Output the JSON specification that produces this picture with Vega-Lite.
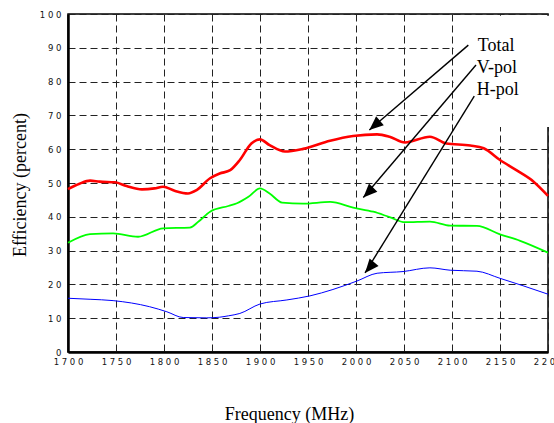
{
  "$schema": "https://vega.github.io/schema/vega-lite/v6.json",
  "width": 480,
  "height": 338,
  "autosize": {"type": "none"},
  "padding": {"left": 68, "top": 14, "right": 6, "bottom": 71},
  "background": "white",
  "config": {
    "view": {"stroke": "black", "strokeWidth": 1.5},
    "axis": {
      "grid": true,
      "gridColor": "#222222",
      "gridDash": [7, 4],
      "gridWidth": 1,
      "gridOpacity": 1,
      "domain": true,
      "domainColor": "black",
      "domainWidth": 2.5,
      "ticks": false,
      "tickSize": 0,
      "labelFont": "DejaVu Sans",
      "labelFontSize": 8.5,
      "labelColor": "#111111",
      "labelFlush": false,
      "labelOverlap": false,
      "labelBound": false,
      "format": "d",
      "labelExpr": "join(split(datum.label, ''), ' ')",
      "titleFont": "Liberation Serif",
      "titleFontSize": 18,
      "titleFontWeight": "normal",
      "titleColor": "black",
      "titleAlign": "center",
      "titleBaseline": "alphabetic"
    },
    "axisX": {
      "labelPadding": 5,
      "values": [1700, 1750, 1800, 1850, 1900, 1950, 2000, 2050, 2100, 2150, 2200],
      "titleX": 221,
      "titleY": 67,
      "titleAngle": 0
    },
    "axisY": {
      "labelPadding": 7,
      "values": [0, 10, 20, 30, 40, 50, 60, 70, 80, 90, 100],
      "titleX": -42.5,
      "titleY": 170.5,
      "titleAngle": -90
    }
  },
  "datasets": {
    "curves": [
      {"series": "Total", "freq": 1700, "eff": 48.2},
      {"series": "Total", "freq": 1712, "eff": 49.8},
      {"series": "Total", "freq": 1723, "eff": 50.7},
      {"series": "Total", "freq": 1733, "eff": 50.4},
      {"series": "Total", "freq": 1749, "eff": 50.2},
      {"series": "Total", "freq": 1761, "eff": 49.1},
      {"series": "Total", "freq": 1777, "eff": 48.1},
      {"series": "Total", "freq": 1790, "eff": 48.4},
      {"series": "Total", "freq": 1799, "eff": 48.9},
      {"series": "Total", "freq": 1811, "eff": 47.7},
      {"series": "Total", "freq": 1825, "eff": 46.9},
      {"series": "Total", "freq": 1834, "eff": 47.9},
      {"series": "Total", "freq": 1848, "eff": 51.4},
      {"series": "Total", "freq": 1858, "eff": 52.8},
      {"series": "Total", "freq": 1869, "eff": 53.8},
      {"series": "Total", "freq": 1879, "eff": 56.8},
      {"series": "Total", "freq": 1891, "eff": 61.7},
      {"series": "Total", "freq": 1900, "eff": 62.9},
      {"series": "Total", "freq": 1910, "eff": 61.2},
      {"series": "Total", "freq": 1926, "eff": 59.3},
      {"series": "Total", "freq": 1945, "eff": 60.1},
      {"series": "Total", "freq": 1973, "eff": 62.5},
      {"series": "Total", "freq": 1997, "eff": 63.9},
      {"series": "Total", "freq": 2022, "eff": 64.4},
      {"series": "Total", "freq": 2035, "eff": 63.7},
      {"series": "Total", "freq": 2051, "eff": 62.0},
      {"series": "Total", "freq": 2077, "eff": 63.7},
      {"series": "Total", "freq": 2094, "eff": 61.7},
      {"series": "Total", "freq": 2119, "eff": 61.1},
      {"series": "Total", "freq": 2133, "eff": 60.3},
      {"series": "Total", "freq": 2150, "eff": 56.8},
      {"series": "Total", "freq": 2167, "eff": 53.8},
      {"series": "Total", "freq": 2185, "eff": 50.4},
      {"series": "Total", "freq": 2200, "eff": 46.2},
      {"series": "V-pol", "freq": 1700, "eff": 32.3},
      {"series": "V-pol", "freq": 1723, "eff": 34.9},
      {"series": "V-pol", "freq": 1747, "eff": 35.1},
      {"series": "V-pol", "freq": 1773, "eff": 34.1},
      {"series": "V-pol", "freq": 1799, "eff": 36.6},
      {"series": "V-pol", "freq": 1827, "eff": 36.8},
      {"series": "V-pol", "freq": 1836, "eff": 38.6},
      {"series": "V-pol", "freq": 1848, "eff": 41.5},
      {"series": "V-pol", "freq": 1867, "eff": 43.2},
      {"series": "V-pol", "freq": 1876, "eff": 44.0},
      {"series": "V-pol", "freq": 1888, "eff": 45.9},
      {"series": "V-pol", "freq": 1900, "eff": 48.4},
      {"series": "V-pol", "freq": 1910, "eff": 46.9},
      {"series": "V-pol", "freq": 1923, "eff": 44.2},
      {"series": "V-pol", "freq": 1945, "eff": 43.9},
      {"series": "V-pol", "freq": 1973, "eff": 44.4},
      {"series": "V-pol", "freq": 1997, "eff": 42.7},
      {"series": "V-pol", "freq": 2018, "eff": 41.5},
      {"series": "V-pol", "freq": 2035, "eff": 39.9},
      {"series": "V-pol", "freq": 2051, "eff": 38.4},
      {"series": "V-pol", "freq": 2077, "eff": 38.6},
      {"series": "V-pol", "freq": 2098, "eff": 37.4},
      {"series": "V-pol", "freq": 2126, "eff": 37.3},
      {"series": "V-pol", "freq": 2150, "eff": 34.8},
      {"series": "V-pol", "freq": 2171, "eff": 32.9},
      {"series": "V-pol", "freq": 2200, "eff": 29.4},
      {"series": "H-pol", "freq": 1700, "eff": 15.9},
      {"series": "H-pol", "freq": 1723, "eff": 15.6},
      {"series": "H-pol", "freq": 1747, "eff": 15.2},
      {"series": "H-pol", "freq": 1785, "eff": 13.4},
      {"series": "H-pol", "freq": 1803, "eff": 11.9},
      {"series": "H-pol", "freq": 1820, "eff": 10.2},
      {"series": "H-pol", "freq": 1844, "eff": 10.1},
      {"series": "H-pol", "freq": 1858, "eff": 10.3},
      {"series": "H-pol", "freq": 1867, "eff": 10.7},
      {"series": "H-pol", "freq": 1879, "eff": 11.4},
      {"series": "H-pol", "freq": 1900, "eff": 14.2},
      {"series": "H-pol", "freq": 1928, "eff": 15.4},
      {"series": "H-pol", "freq": 1952, "eff": 16.6},
      {"series": "H-pol", "freq": 1976, "eff": 18.5},
      {"series": "H-pol", "freq": 2001, "eff": 21.0},
      {"series": "H-pol", "freq": 2022, "eff": 23.3},
      {"series": "H-pol", "freq": 2049, "eff": 23.8},
      {"series": "H-pol", "freq": 2077, "eff": 24.9},
      {"series": "H-pol", "freq": 2098, "eff": 24.2},
      {"series": "H-pol", "freq": 2126, "eff": 23.9},
      {"series": "H-pol", "freq": 2150, "eff": 21.8},
      {"series": "H-pol", "freq": 2174, "eff": 19.6},
      {"series": "H-pol", "freq": 2200, "eff": 17.1}
    ],
    "box": [
      {"x1": 2102, "x2": 2216, "y1": 66.6, "y2": 99.5}
    ],
    "arrows": [
      {"label": "Total", "xs": 2117.0, "ys": 90.8, "xt": 2013.9, "yt": 65.7, "tx": 2126.8, "ty": 89.1},
      {"label": "V-pol", "xs": 2125.0, "ys": 84.9, "xt": 2007.6, "yt": 45.7, "tx": 2125.7, "ty": 82.4},
      {"label": "H-pol", "xs": 2123.2, "ys": 75.7, "xt": 2009.4, "yt": 23.4, "tx": 2125.7, "ty": 76.0}
    ]
  },
  "layer": [
    {
      "data": {"name": "curves"},
      "mark": {"type": "line", "interpolate": "monotone"},
      "encoding": {
        "x": {"field": "freq", "type": "quantitative", "title": "Frequency (MHz)", "scale": {"domain": [1700, 2200], "nice": false, "zero": false}},
        "y": {"field": "eff", "type": "quantitative", "title": "Efficiency (percent)", "scale": {"domain": [0, 100], "nice": false}},
        "color": {"field": "series", "type": "nominal", "legend": null, "scale": {"domain": ["Total", "V-pol", "H-pol"], "range": ["#ff0000", "#00ff00", "#0000ff"]}},
        "strokeWidth": {"field": "series", "type": "nominal", "legend": null, "scale": {"domain": ["Total", "V-pol", "H-pol"], "range": [2.6, 1.0, 1.0]}}
      }
    },
    {
      "data": {"name": "box"},
      "mark": {"type": "rect", "color": "white", "opacity": 1},
      "encoding": {
        "x": {"field": "x1", "type": "quantitative", "title": "Frequency (MHz)"},
        "x2": {"field": "x2"},
        "y": {"field": "y1", "type": "quantitative", "title": "Efficiency (percent)"},
        "y2": {"field": "y2"}
      }
    },
    {
      "data": {"name": "arrows"},
      "mark": {"type": "rule", "color": "black", "strokeWidth": 1.4},
      "encoding": {
        "x": {"field": "xs", "type": "quantitative", "title": "Frequency (MHz)"},
        "y": {"field": "ys", "type": "quantitative", "title": "Efficiency (percent)"},
        "x2": {"field": "xt"},
        "y2": {"field": "yt"}
      }
    },
    {
      "data": {"name": "arrows"},
      "mark": {"type": "point", "shape": "M0,0L-0.42,1L0.42,1Z", "filled": true, "color": "black", "opacity": 1, "size": 784},
      "encoding": {
        "x": {"field": "xt", "type": "quantitative", "title": "Frequency (MHz)"},
        "y": {"field": "yt", "type": "quantitative", "title": "Efficiency (percent)"},
        "angle": {"field": "label", "type": "nominal", "legend": null, "scale": {"domain": ["Total", "V-pol", "H-pol"], "range": [229.4, 220.4, 211.7]}}
      }
    },
    {
      "data": {"name": "arrows"},
      "mark": {"type": "text", "font": "Liberation Serif", "fontSize": 18, "align": "left", "baseline": "alphabetic", "color": "black"},
      "encoding": {
        "x": {"field": "tx", "type": "quantitative", "title": "Frequency (MHz)"},
        "y": {"field": "ty", "type": "quantitative", "title": "Efficiency (percent)"},
        "text": {"field": "label", "type": "nominal"}
      }
    }
  ]
}
